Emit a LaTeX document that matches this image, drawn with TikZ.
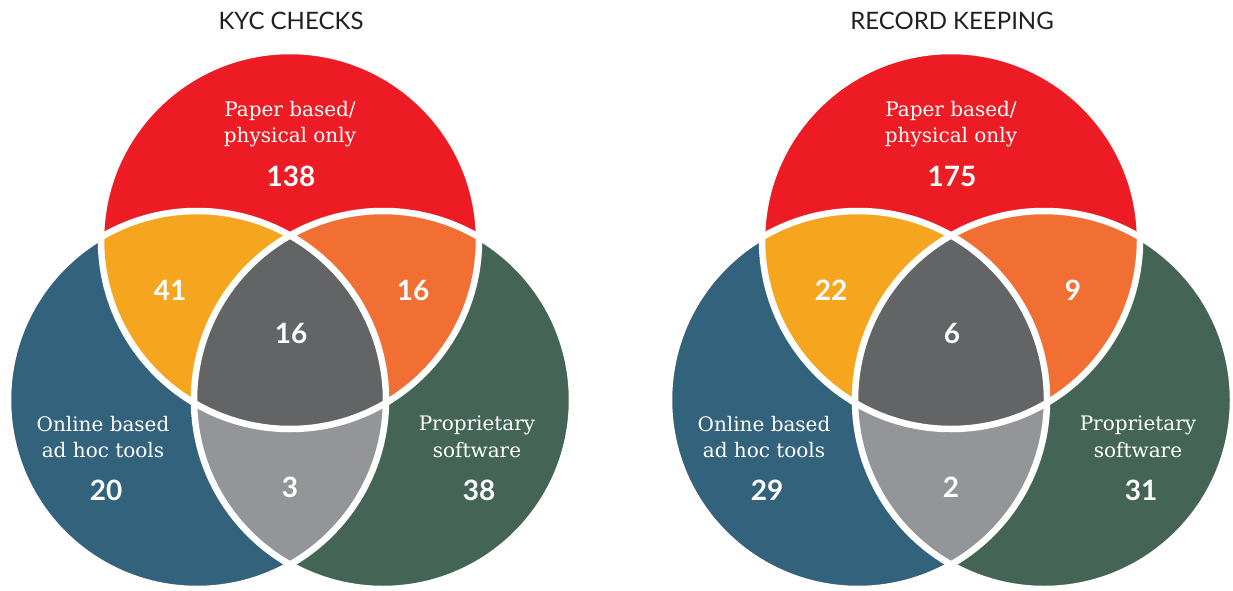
\documentclass[tikz,border=0pt]{standalone}
\usepackage{fontspec}
\usetikzlibrary{positioning}
\newfontfamily\labelfont{DejaVu Serif}
\newfontfamily\numfont{Lato}
\newfontfamily\titlefont{Lato}
\definecolor{vennRed}{HTML}{ED1C24}
\definecolor{vennBlue}{HTML}{33627C}
\definecolor{vennGreen}{HTML}{446556}
\definecolor{vennYellow}{HTML}{F6A61E}
\definecolor{vennOrange}{HTML}{F26F33}
\definecolor{vennDark}{HTML}{636466}
\definecolor{vennLight}{HTML}{939598}
\definecolor{titleText}{HTML}{231F20}

\begin{document}
\begin{tikzpicture}[x=1pt, y=-1pt,
    ring/.style={draw=white, line width=6.5pt},
    title/.style={font=\titlefont\fontsize{24}{28}\selectfont, text=titleText},
    setlabel/.style={font=\labelfont\fontsize{20}{26.5}\selectfont, text=white, align=center, inner sep=0pt},
    count/.style={font=\numfont\bfseries\fontsize{28}{30}\selectfont, text=white, inner sep=0pt}]
        \useasboundingbox (0,0) rectangle (1233,591);

        % KYC checks
        \coordinate (kycR) at (290,240);
        \coordinate (kycB) at (197,400);
        \coordinate (kycG) at (383,400);
        \fill[vennRed] (kycR) circle (189);
        \fill[vennBlue] (kycB) circle (189);
        \fill[vennGreen] (kycG) circle (189);
        \begin{scope}
            \clip (kycB) circle (189);
            \fill[vennLight] (kycG) circle (189);
        \end{scope}
        \begin{scope}
            \clip (kycR) circle (189);
            \fill[vennYellow] (kycB) circle (189);
            \fill[vennOrange] (kycG) circle (189);
            \clip (kycB) circle (189);
            \fill[vennDark] (kycG) circle (189);
        \end{scope}
        \draw[ring] (kycR) circle (189);
        \draw[ring] (kycB) circle (189);
        \draw[ring] (kycG) circle (189);

        \node (kycTitle) [title] at (291,21) {KYC CHECKS};
        \node (kycPaper) [setlabel] at (290,124) {Paper based/\\physical only};
        \node (kycPaperN) [count] at (291,176) {138};
        \node (kycPaperOnline) [count] at (170,290) {41};
        \node (kycPaperProp) [count] at (413,290) {16};
        \node (kycAll) [count] at (291,333) {16};
        \node (kycOnlineProp) [count] at (290,487) {3};
        \node (kycOnline) [setlabel] at (103,437) {Online based\\ad hoc tools};
        \node (kycOnlineN) [count] at (106,490) {20};
        \node (kycProp) [setlabel] at (477,437) {Proprietary\\software};
        \node (kycPropN) [count] at (479,490) {38};

        % Record keeping
        \coordinate (recR) at (951,240);
        \coordinate (recB) at (858,400);
        \coordinate (recG) at (1044,400);
        \fill[vennRed] (recR) circle (189);
        \fill[vennBlue] (recB) circle (189);
        \fill[vennGreen] (recG) circle (189);
        \begin{scope}
            \clip (recB) circle (189);
            \fill[vennLight] (recG) circle (189);
        \end{scope}
        \begin{scope}
            \clip (recR) circle (189);
            \fill[vennYellow] (recB) circle (189);
            \fill[vennOrange] (recG) circle (189);
            \clip (recB) circle (189);
            \fill[vennDark] (recG) circle (189);
        \end{scope}
        \draw[ring] (recR) circle (189);
        \draw[ring] (recB) circle (189);
        \draw[ring] (recG) circle (189);

        \node (recTitle) [title] at (952,21) {RECORD KEEPING};
        \node (recPaper) [setlabel] at (951,124) {Paper based/\\physical only};
        \node (recPaperN) [count] at (952,176) {175};
        \node (recPaperOnline) [count] at (831,290) {22};
        \node (recPaperProp) [count] at (1073,290) {9};
        \node (recAll) [count] at (952,333) {6};
        \node (recOnlineProp) [count] at (951,487) {2};
        \node (recOnline) [setlabel] at (764,437) {Online based\\ad hoc tools};
        \node (recOnlineN) [count] at (767,490) {29};
        \node (recProp) [setlabel] at (1138,437) {Proprietary\\software};
        \node (recPropN) [count] at (1141,490) {31};
    \end{tikzpicture}
\end{document}
